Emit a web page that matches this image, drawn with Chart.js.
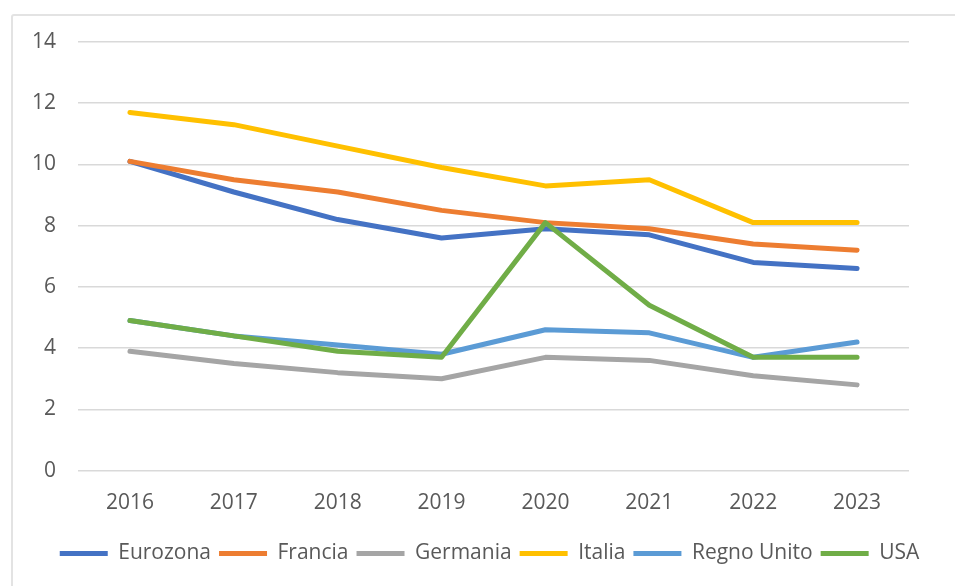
<!DOCTYPE html>
<html>
<head>
<meta charset="utf-8">
<script src="https://cdn.jsdelivr.net/npm/chart.js@4"></script>
<style>
  html, body { margin: 0; padding: 0; background: #fff; }
  body { width: 955px; height: 586px; overflow: hidden; position: relative; }
  .frame { position: absolute; left: 11px; top: 14px; width: 1000px; height: 700px; border: 2px solid #e3e3e3; border-radius: 3px; box-sizing: border-box; }
  .wrap { position: absolute; left: 0; top: 0; width: 955px; height: 586px; }
</style>
</head>
<body>
<div class="frame"></div>
<div class="wrap"><canvas id="myChart"></canvas></div>
<script>
const years = ["2016", "2017", "2018", "2019", "2020", "2021", "2022", "2023"];
const eurozona = [10.1, 9.1, 8.2, 7.6, 7.9, 7.7, 6.8, 6.6];
const francia = [10.1, 9.5, 9.1, 8.5, 8.1, 7.9, 7.4, 7.2];
const germania = [3.9, 3.5, 3.2, 3.0, 3.7, 3.6, 3.1, 2.8];
const italia = [11.7, 11.3, 10.6, 9.9, 9.3, 9.5, 8.1, 8.1];
const regnoUnito = [4.9, 4.4, 4.1, 3.8, 4.6, 4.5, 3.7, 4.2];
const usa = [4.9, 4.4, 3.9, 3.7, 8.1, 5.4, 3.7, 3.7];

// later series drawn on top, like in the original
function serie(label, data, color, order) {
  return {
    label: label,
    data: data,
    borderColor: color,
    backgroundColor: color,
    borderWidth: 5,
    borderCapStyle: 'round',
    borderJoinStyle: 'round',
    pointRadius: 0,
    pointStyle: 'line',
    tension: 0,
    order: order
  };
}

const font = { family: "'Open Sans', 'Liberation Sans', sans-serif", size: 21 };

// legend sits a bit right of the canvas centre in the original
const shiftLegend = {
  id: 'shiftLegend',
  afterLayout(chart) {
    chart.legend.left += 30;
    chart.legend.right += 30;
  }
};

new Chart(document.getElementById("myChart"), {
  type: 'line',
  data: {
    labels: years,
    datasets: [
      serie("Eurozona", eurozona, "#4472C4", 5),
      serie("Francia", francia, "#ED7D31", 4),
      serie("Germania", germania, "#A5A5A5", 3),
      serie("Italia", italia, "#FFC000", 2),
      serie("Regno Unito", regnoUnito, "#5B9BD5", 1),
      serie("USA", usa, "#70AD47", 0)
    ]
  },
  plugins: [shiftLegend],
  options: {
    responsive: true,
    maintainAspectRatio: false,
    animation: false,
    layout: { padding: { left: 10, right: 46, top: 42, bottom: 12 } },
    plugins: {
      tooltip: { enabled: false },
      legend: {
        position: 'bottom',
        labels: {
          usePointStyle: true,
          pointStyleWidth: 48,
          boxHeight: 5,
          color: '#595959',
          font: font,
          padding: 8,
          sort: (a, b) => a.datasetIndex - b.datasetIndex
        }
      }
    },
    scales: {
      x: {
        offset: true,
        grid: { display: false },
        border: { display: false },
        ticks: { color: '#595959', font: font, padding: 12 },
        title: { display: true, text: ' ', font: { size: 6 }, padding: 0 }
      },
      y: {
        min: 0,
        max: 14,
        ticks: { stepSize: 2, color: '#595959', font: font, padding: 22 },
        grid: { color: '#d9d9d9', lineWidth: 1.5, drawTicks: false },
        border: { display: false }
      }
    }
  }
});
</script>
</body>
</html>
